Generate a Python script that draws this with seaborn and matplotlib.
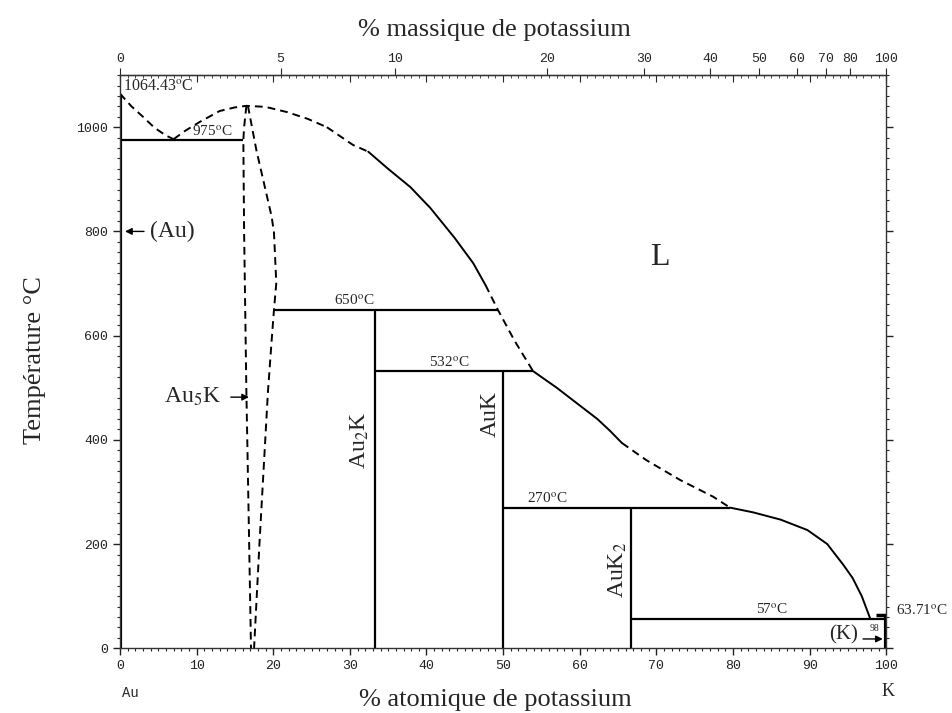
import numpy as np
import pandas as pd
import matplotlib
matplotlib.use("Agg")
import matplotlib.pyplot as plt
import seaborn as sns
from matplotlib.ticker import MultipleLocator

M_AU = 196.967
M_K = 39.098

# liquidus (at% K, degC)
liq_au_x = [0, 1.5, 3.0, 4.5, 6.0, 7.0]
liq_au_t = [1064.43, 1040, 1020, 999, 984, 977]
liq_a5_x = [7.0, 8.5, 10.4, 13.0, 15.0, 16.5, 19.0, 21.8, 24.5, 27.0, 30.4, 32.4]
liq_a5_t = [977, 993, 1010, 1031, 1038, 1041, 1039, 1029, 1016, 1000, 966, 953]
liq_s1_x = [32.4, 35.0, 37.9, 40.5, 43.7, 46.1, 47.7]
liq_s1_t = [953, 920, 885, 845, 787, 739, 697]
liq_d1_x = [47.7, 49.3, 51.5, 53.9]
liq_d1_t = [697, 650, 590, 532]
liq_s2_x = [53.9, 57.0, 60.0, 62.3, 63.9, 65.5]
liq_s2_t = [532, 500, 466, 440, 418, 394]
liq_d2_x = [65.5, 68.7, 73.1, 77.4, 79.6]
liq_d2_t = [394, 361, 323, 291, 270]
liq_s3_x = [79.6, 82.6, 86.2, 89.7, 92.3, 94.4, 95.6, 96.8, 97.9]
liq_s3_t = [270, 261, 247, 227, 200, 160, 135, 100, 57]

# Au5K homogeneity range
au5k_left_x = [16.5, 16.2, 16.1, 16.2, 16.5, 16.8, 17.1]
au5k_left_t = [1041, 1000, 975, 800, 490, 250, 0]
au5k_right_x = [16.7, 17.8, 19.8, 20.1, 20.4, 20.1, 19.8, 19.3, 18.9, 18.2, 17.5]
au5k_right_t = [1041, 956, 828, 797, 701, 650, 592, 490, 384, 200, 0]

# invariant lines: temperature, x start, x end
inv_t = [975, 650, 532, 270, 57]
inv_x0 = [0, 20.1, 33.33, 50, 66.67]
inv_x1 = [16.1, 49.3, 53.9, 79.6, 100]
inv_lbl = ["975", "650", "532", "270", "57"]
inv_lbl_x = [12.1, 30.6, 43.0, 55.7, 85.1]

# compounds: composition, top temperature
cmp_x = [33.33, 50, 66.67]
cmp_t = [650, 532, 270]
cmp_name = ["Au$_2$K", "AuK", "AuK$_2$"]
cmp_lbl_x = [31.3, 48.3, 65.0]
cmp_lbl_t = [400, 450, 150]

wt_ticks = [0, 5, 10, 20, 30, 40, 50, 60, 70, 80, 100]


def at_to_wt(a):
    a = np.asarray(a, dtype=float)
    with np.errstate(divide="ignore", invalid="ignore"):
        return 100 * a * M_K / (a * M_K + (100 - a) * M_AU)


def wt_to_at(w):
    w = np.asarray(w, dtype=float)
    with np.errstate(divide="ignore", invalid="ignore"):
        return 100 * (w / M_K) / (w / M_K + (100 - w) / M_AU)


sns.set_style("ticks")
plt.rcParams["font.family"] = ["Liberation Serif", "DejaVu Serif"]
plt.rcParams["mathtext.fontset"] = "stix"

fig = plt.figure(figsize=(9.52, 7.13), dpi=100)
ax = fig.add_axes([0.126, 0.0907, 0.805, 0.804])

dash = (0, (4, 2.6))
pieces = [
    (liq_au_x, liq_au_t, dash),
    (liq_a5_x[:10], liq_a5_t[:10], dash),
    (liq_a5_x[9:], liq_a5_t[9:], dash),
    (liq_s1_x, liq_s1_t, "-"),
    (liq_d1_x, liq_d1_t, dash),
    (liq_s2_x, liq_s2_t, "-"),
    (liq_d2_x, liq_d2_t, dash),
    (liq_s3_x, liq_s3_t, "-"),
    (au5k_left_x, au5k_left_t, dash),
    (au5k_right_x, au5k_right_t, dash),
]
for xs, ts, ls in pieces:
    df = pd.DataFrame({"x": xs, "t": ts})
    sns.lineplot(data=df, x="x", y="t", sort=False, estimator=None,
                 color="k", lw=1.4, linestyle=ls, ax=ax)

ax.hlines(inv_t, inv_x0, inv_x1, color="k", lw=1.6)
ax.vlines(cmp_x, 0, cmp_t, color="k", lw=1.6)
ax.vlines([0], 0, 1064.43, color="k", lw=3)
ax.vlines([100], 0, 63.71, color="k", lw=3)
ax.hlines([63.71], 98.6, 100, color="k", lw=2.5)

for t, lx, lab in zip(inv_t, inv_lbl_x, inv_lbl):
    ax.text(lx, t + 3, lab + r"$^{\rm o}$C", ha="center", va="bottom", fontsize=11)
ax.text(0.4, 1064, r"1064.43$^{\rm o}$C", ha="left", va="bottom", fontsize=11.5)
ax.text(101.2, 72, r"63.71$^{\rm o}$C", ha="left", va="center", fontsize=11,
        clip_on=False)

for cx, ct, name in zip(cmp_lbl_x, cmp_lbl_t, cmp_name):
    ax.text(cx, ct, name, rotation=90, ha="center", va="center", fontsize=17)

ax.text(70.4, 750, "L", ha="center", va="center", fontsize=23)
ax.text(3.9, 800, "(Au)", ha="left", va="center", fontsize=17)
ax.annotate("", xy=(0.3, 800), xytext=(3.5, 800),
            arrowprops=dict(arrowstyle="-|>", color="k", lw=1, mutation_scale=10))
ax.text(13.3, 482, "Au$_5$K", ha="right", va="center", fontsize=17)
ax.annotate("", xy=(17.2, 482), xytext=(14.1, 482),
            arrowprops=dict(arrowstyle="-|>", color="k", lw=1, mutation_scale=10))
ax.text(96.3, 25, "(K)", ha="right", va="center", fontsize=15)
ax.annotate("", xy=(99.9, 18), xytext=(96.6, 18),
            arrowprops=dict(arrowstyle="-|>", color="k", lw=1, mutation_scale=10))
ax.text(98.4, 30, "98", ha="center", va="bottom", fontsize=7)

ax.set_xlim(0, 100)
ax.set_ylim(0, 1100)
ax.set_xticks(range(0, 101, 10))
ax.set_yticks(range(0, 1001, 200))
ax.xaxis.set_minor_locator(MultipleLocator(1))
ax.yaxis.set_minor_locator(MultipleLocator(20))
ax.tick_params(axis="both", which="major", direction="out", length=5, width=1,
               labelsize=9.5, colors="#222222")
ax.tick_params(axis="both", which="minor", direction="out", length=2.5, width=0.8)
ax.tick_params(axis="y", which="both", right=True)
for lab in ax.get_xticklabels() + ax.get_yticklabels():
    lab.set_family("Liberation Mono")
ax.set_xlabel("")
ax.set_ylabel("")
for sp in ax.spines.values():
    sp.set_color("#333333")
    sp.set_linewidth(1)

# at% ticks mirrored on top, pointing in
top_in = ax.secondary_xaxis("top")
top_in.set_xticks(range(0, 101, 10))
top_in.xaxis.set_minor_locator(MultipleLocator(1))
top_in.tick_params(which="major", direction="in", length=5, labeltop=False)
top_in.tick_params(which="minor", direction="in", length=2.5)

# mass % scale on top
top_wt = ax.secondary_xaxis("top", functions=(at_to_wt, wt_to_at))
top_wt.set_xticks(wt_ticks)
top_wt.set_xticklabels([str(w) for w in wt_ticks], family="Liberation Mono")
top_wt.xaxis.set_minor_locator(plt.NullLocator())
top_wt.tick_params(direction="out", length=5, labelsize=9.5, pad=2)

fig.text(0.519, 0.958, "% massique de potassium", ha="center", va="center", fontsize=19)
fig.text(0.52, 0.018, "% atomique de potassium", ha="center", va="center", fontsize=19)
fig.text(0.037, 0.495, "Température °C", ha="center", va="center", rotation=90,
         fontsize=19)
fig.text(0.128, 0.028, "Au", ha="left", va="center", fontsize=10, family="Liberation Mono")
fig.text(0.933, 0.030, "K", ha="center", va="center", fontsize=13)

fig.savefig("out.png", dpi=100)
